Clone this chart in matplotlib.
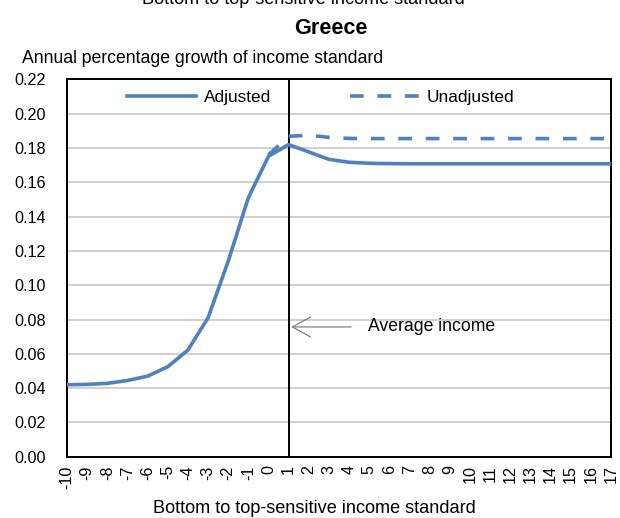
import matplotlib
matplotlib.use("Agg")
import matplotlib.pyplot as plt
from matplotlib.ticker import MultipleLocator, FormatStrFormatter

# Data
standards = list(range(-10, 18))
adjusted = [0.0420, 0.0422, 0.0428, 0.0445, 0.0470, 0.0525, 0.0622, 0.0810,
            0.1140, 0.1510, 0.1752, 0.1820, 0.1777, 0.1734, 0.1717, 0.1711,
            0.1709, 0.1708, 0.1708, 0.1708, 0.1708, 0.1708, 0.1708, 0.1708,
            0.1708, 0.1708, 0.1708, 0.1708]
unadj_x = list(range(0, 18))
unadjusted = [0.1760, 0.1868, 0.1875, 0.1862, 0.1856, 0.1855, 0.1855, 0.1855,
              0.1855, 0.1855, 0.1855, 0.1855, 0.1855, 0.1855, 0.1855, 0.1855,
              0.1855, 0.1855]
tick_labels = [str(v) for v in standards]
average_income_at = 1
arrow_y = 0.0757

plt.rcParams['font.family'] = ['Liberation Sans', 'DejaVu Sans']
blue = '#4F81BD'

fig = plt.figure(figsize=(6.2, 5.18), dpi=100)
W, H = 620, 518
ax = fig.add_axes([67 / W, 1 - 456.8 / H, (611 - 67) / W, (456.8 - 79.4) / H])

ax.set_xlim(-10, 17)
ax.set_ylim(0, 0.22)
ax.yaxis.set_major_locator(MultipleLocator(0.02))
ax.yaxis.set_major_formatter(FormatStrFormatter('%.2f'))
ax.set_xticks(standards)
ax.set_xticklabels(tick_labels, rotation=90)
ax.tick_params(axis='y', length=0, pad=15, labelsize=11.6)
ax.tick_params(axis='x', length=0, pad=6, labelsize=11.6)

ax.grid(axis='y', color='#d0d0d0', linewidth=1.4)
ax.set_axisbelow(True)
for sp in ax.spines.values():
    sp.set_color('black')
    sp.set_linewidth(1.4)

ax.axvline(average_income_at, color='black', linewidth=1.4, zorder=2)

l_adj, = ax.plot(standards, adjusted, color=blue, linewidth=2.6,
                 solid_joinstyle='round', zorder=3, label='Adjusted')
l_un, = ax.plot(unadj_x, unadjusted, color=blue, linewidth=2.6,
                dashes=(3.8, 3.8), zorder=3, label='Unadjusted')

ax.legend(handles=[l_adj, l_un], loc='center left',
          bbox_to_anchor=(60 / 544, (456.8 - 97) / 377.4),
          ncol=2, frameon=False, fontsize=12.4, handlelength=4.0,
          handletextpad=0.45, columnspacing=4.6, borderpad=0,
          borderaxespad=0)

ax.annotate('', xy=(1.12, arrow_y), xytext=(4.1, arrow_y),
            arrowprops=dict(arrowstyle='->,head_length=1.1,head_width=0.6',
                            color='#808080', lw=0.9, mutation_scale=12,
                            shrinkA=0, shrinkB=0))
ax.text(4.95, arrow_y, 'Average income', fontsize=12.7, va='center',
        ha='left')

fig.text(303 / W, 1 - 4 / H, 'Bottom to top-sensitive income standard',
         fontsize=13.1, ha='center', va='baseline')
fig.text(331 / W, 1 - 34 / H, 'Greece', fontsize=15.6, fontweight='bold',
         ha='center', va='baseline')
fig.text(22 / W, 1 - 62.7 / H, 'Annual percentage growth of income standard',
         fontsize=12.7, ha='left', va='baseline')
fig.text(314 / W, 1 - 513 / H, 'Bottom to top-sensitive income standard',
         fontsize=13.1, ha='center', va='baseline')

fig.savefig('out.png', dpi=100)
